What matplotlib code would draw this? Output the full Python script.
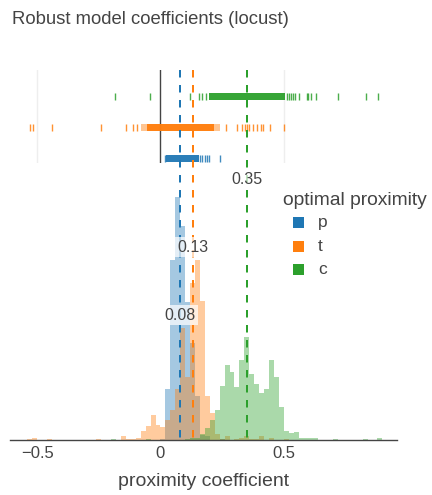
import matplotlib
matplotlib.use('Agg')
import matplotlib.pyplot as plt
from matplotlib.lines import Line2D
from matplotlib.patches import Rectangle
from matplotlib.transforms import blended_transform_factory

plt.rcParams['font.family'] = ['Liberation Sans', 'DejaVu Sans']

# Histogram data (bin left edges, bin width 0.02, counts)
p_lefts = [0.00, 0.02, 0.04, 0.06, 0.08, 0.10, 0.12, 0.14, 0.16, 0.18, 0.24]
p_counts = [1, 44, 154, 208, 183, 118, 83, 38, 4, 3, 1]

t_lefts = [-0.54, -0.52, -0.46, -0.26, -0.16, -0.14, -0.12, -0.10, -0.08, -0.06,
           -0.04, -0.02, 0.00, 0.02, 0.04, 0.06, 0.08, 0.10, 0.12, 0.14,
           0.16, 0.18, 0.20, 0.22, 0.24, 0.26, 0.30, 0.32, 0.34, 0.36,
           0.38, 0.40, 0.44, 0.50]
t_counts = [1, 2, 1, 1, 3, 1, 1, 2, 8, 12,
            21, 13, 11, 17, 26, 44, 96, 54, 134, 154,
            119, 38, 23, 5, 1, 3, 1, 2, 3, 1,
            1, 3, 2, 1]

c_lefts = [-0.20, -0.06, 0.10, 0.12, 0.14, 0.16, 0.18, 0.20, 0.22, 0.24,
           0.26, 0.28, 0.30, 0.32, 0.34, 0.36, 0.38, 0.40, 0.42, 0.44,
           0.46, 0.48, 0.50, 0.52, 0.54, 0.56, 0.58, 0.60, 0.62, 0.70,
           0.82, 0.88]
c_counts = [1, 1, 1, 2, 2, 5, 10, 17, 26, 46,
            64, 58, 45, 68, 88, 56, 48, 40, 44, 68,
            54, 28, 8, 6, 7, 2, 2, 2, 2, 1,
            1, 2]

# Rug data: dense stretches and isolated samples
p_dense = [(0.023, 0.158)]
p_ticks = [0.018, 0.162, 0.170, 0.181, 0.189, 0.198, 0.240]
t_dense_light = [(-0.081, 0.243)]
t_dense = [(-0.054, 0.216)]
t_ticks = [-0.529, -0.518, -0.441, -0.243, -0.139, -0.112, -0.096, 0.265, 0.309,
           0.332, 0.341, 0.351, 0.359, 0.374, 0.393, 0.408, 0.416, 0.443, 0.503]
c_dense = [(0.196, 0.506)]
c_ticks = [-0.185, -0.042, 0.119, 0.158, 0.167, 0.186, 0.513, 0.521, 0.529, 0.537,
           0.547, 0.563, 0.596, 0.600, 0.611, 0.630, 0.719, 0.833, 0.881]

names = ['p', 't', 'c']
colors = ['#1f77b4', '#ff7f0e', '#2ca02c']
medians = [0.08, 0.13, 0.35]
median_labels = ['0.08', '0.13', '0.35']

xtick_vals = [-0.5, 0, 0.5]
xtick_labels = ['\u22120.5', '0', '0.5']

TXT = '#444444'
W, H = 432, 495


def fy(px):
    return 1 - px / H


fig = plt.figure(figsize=(W / 100, H / 100), dpi=100)
ax_rug = fig.add_axes([10 / W, fy(163), 387 / W, 93 / H])
ax = fig.add_axes([10 / W, fy(440), 387 / W, 274 / H])

xlim = (-0.6105, 0.9594)

# Main histogram (overlay)
for lefts, counts, color in zip([p_lefts, t_lefts, c_lefts],
                                [p_counts, t_counts, c_counts], colors):
    ax.bar(lefts, counts, width=0.02, align='edge', color=color, alpha=0.4, linewidth=0)

ax.set_xlim(*xlim)
ax.set_ylim(0, 234.2)
for s in ['top', 'left', 'right']:
    ax.spines[s].set_visible(False)
ax.spines['bottom'].set_color(TXT)
ax.spines['bottom'].set_linewidth(1)
ax.set_yticks([])
ax.set_xticks(xtick_vals)
ax.set_xticklabels(xtick_labels)
ax.tick_params(axis='x', length=0, pad=4, labelsize=12, labelcolor=TXT)
ax.set_xlabel('proximity coefficient', fontsize=14, color=TXT)
ax.xaxis.set_label_coords(0.5, (440 - 481) / 274)
ax.xaxis.label.set_va('center')

# Rug panel
ax_rug.set_xlim(*xlim)
ax_rug.set_ylim(-0.145, 2.855)
ax_rug.axis('off')
for gx in [-0.5, 0.5]:
    ax_rug.axvline(gx, color='#eeeeee', lw=1, zorder=0)
ax_rug.axvline(0, color=TXT, lw=1, zorder=1)

half = 0.115
rows = {'p': 0, 't': 1, 'c': 2}
rug_sets = [
    ('p', p_dense, [], p_ticks, colors[0]),
    ('t', t_dense, t_dense_light, t_ticks, colors[1]),
    ('c', c_dense, [], c_ticks, colors[2]),
]
for name, dense, light, ticks, color in rug_sets:
    r = rows[name]
    for a, b in light:
        ax_rug.broken_barh([(a, b - a)], (r - half, 2 * half), color=color, alpha=0.45, linewidth=0)
    for a, b in dense:
        ax_rug.broken_barh([(a, b - a)], (r - half, 2 * half), color=color, alpha=0.95, linewidth=0)
    ax_rug.vlines(ticks, r - half, r + half, color=color, lw=1, alpha=0.85)

# Median lines spanning both panels
trans_fig = blended_transform_factory(ax.transData, fig.transFigure)
label_y = [315, 247, 179]
for m, color, lab, ly in zip(medians, colors, median_labels, label_y):
    line = Line2D([m, m], [fy(70), fy(440)], transform=trans_fig, color=color,
                  lw=1.44, linestyle=(0, (3.75, 3.75)), zorder=2)
    fig.add_artist(line)
    fig.text(m, fy(ly), lab, transform=trans_fig, ha='center', va='center',
             fontsize=11.5, color=TXT, zorder=3,
             bbox=dict(boxstyle='square,pad=0.15', fc='white', ec='none', alpha=0.7))

# Legend
fig.text(283 / W, fy(200.5), 'optimal proximity', fontsize=13.9, color=TXT, ha='left', va='center')
for name, color, yy in zip(names, colors, [222.7, 246.7, 269.3]):
    fig.add_artist(Rectangle((293 / W, fy(yy + 5.5)), 11 / W, 11 / H,
                             transform=fig.transFigure, color=color, lw=0))
    fig.text(318 / W, fy(yy), name, fontsize=12.5, color=TXT, ha='left', va='center')

# Title
fig.text(12 / W, fy(20), 'Robust model coefficients (locust)', fontsize=13.3,
         color=TXT, ha='left', va='center')

fig.savefig('out.png', dpi=100)
plt.close(fig)
